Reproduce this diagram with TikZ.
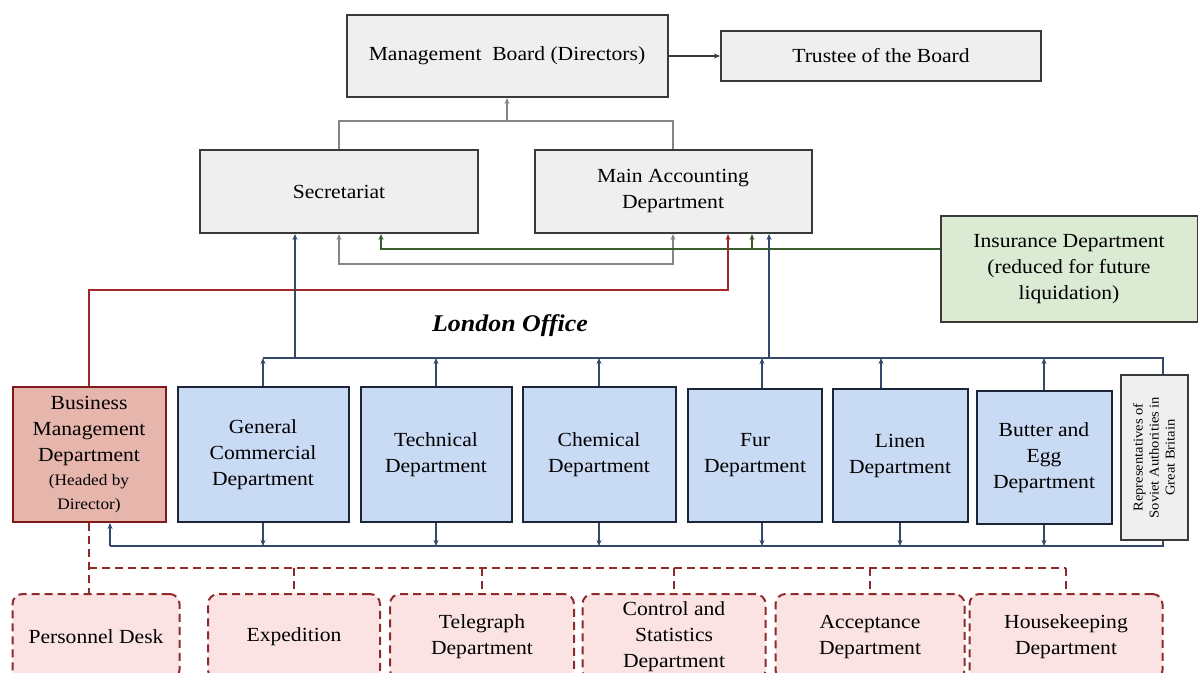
\documentclass[tikz,border=0pt]{standalone}
\usepackage{fontspec}
\setmainfont{Liberation Serif}[FakeStretch=1.08]
\usetikzlibrary{arrows.meta,calc}
\definecolor{fillgray}{HTML}{EFEFEF}
\definecolor{edgegray}{HTML}{3A3A3A}
\definecolor{fillblue}{HTML}{C9DAF5}
\definecolor{edgenavy}{HTML}{1C2438}
\definecolor{fillsalmon}{HTML}{E6B5AC}
\definecolor{edgered}{HTML}{7E1A1A}
\definecolor{fillgreen}{HTML}{DAEAD3}
\definecolor{fillpink}{HTML}{FCE3E3}
\definecolor{dashred}{HTML}{8E2A2A}
\definecolor{linegray}{HTML}{858585}
\definecolor{linegreen}{HTML}{3A5E2C}
\definecolor{linered}{HTML}{A32828}
\definecolor{lineblue}{HTML}{34496A}
\begin{document}
\begin{tikzpicture}[x=1pt,y=-1pt,
  box/.style={draw=edgegray, line width=2pt, align=center, inner sep=2pt,
    font=\fontsize{20}{26}\selectfont, text=black},
  graybox/.style={box, fill=fillgray},
  bluebox/.style={box, fill=fillblue, draw=edgenavy, minimum height=135pt},
  subbox/.style={box, fill=fillpink, draw=dashred, dash pattern=on 8pt off 5pt,
    rounded corners=10pt, minimum height=86pt},
  arr/.style={-{Stealth[length=6pt,width=5pt]}},
  darr/.style={{Stealth[length=6pt,width=5pt]}-{Stealth[length=6pt,width=5pt]}},
  conn/.style={line width=2pt},
  grayl/.style={conn, draw=linegray},
  greenl/.style={conn, draw=linegreen},
  redl/.style={conn, draw=linered},
  bluel/.style={conn, draw=lineblue},
  reddash/.style={line width=2.4pt, draw=dashred, dash pattern=on 8pt off 5pt}
]
\useasboundingbox (0,0) rectangle (1198,672);
\clip (0,0) rectangle (1198,672);

% top level
\node[graybox, minimum width=321pt, minimum height=82pt] (mb) at (507,56) {Management\ \ Board (Directors)};
\node[graybox, minimum width=320pt, minimum height=50pt] (tr) at (881,56) {Trustee of the Board};
\node[graybox, minimum width=278pt, minimum height=83pt] (sec) at (339,191.5) {Secretariat};
\node[graybox, minimum width=277pt, minimum height=83pt] (mad) at (673,191.5) {Main Accounting\\Department};
\node[box, fill=fillgreen, minimum width=257pt, minimum height=106pt] (ins) at (1069,269) {Insurance Department\\(reduced for future\\liquidation)};

\node[font=\fontsize{24}{28}\selectfont\bfseries\itshape] (lo) at (510,326) {London Office};

% department row
\node[box, fill=fillsalmon, draw=edgered, minimum width=153pt, minimum height=135pt] (bmd) at (89,454.5)
  {Business\\Management\\Department\\[-2pt]{\fontsize{16}{22}\selectfont (Headed by}\\[-2pt]{\fontsize{16}{22}\selectfont Director)}};
\node[bluebox, minimum width=171pt] (gc) at (263,454.5) {General\\Commercial\\Department};
\node[bluebox, minimum width=151pt] (tech) at (436,454.5) {Technical\\Department};
\node[bluebox, minimum width=153pt] (chem) at (599,454.5) {Chemical\\Department};
\node[bluebox, minimum width=134pt, minimum height=133pt] (fur) at (755,455.5) {Fur\\Department};
\node[bluebox, minimum width=135pt, minimum height=133pt] (lin) at (900,455.5) {Linen\\Department};
\node[bluebox, minimum width=135pt, minimum height=133pt] (bue) at (1044,457.5) {Butter and\\Egg\\Department};
\node[graybox, minimum width=67pt, minimum height=165pt] (rep) at (1154,457.5) {};
\node[rotate=90, align=center, font=\fontsize{13.5}{16}\selectfont] (reptext) at (rep.center) {Representatives of\\Soviet Authorities in\\Great Britain};

% bottom row
\node[subbox, minimum width=167pt] (pd) at (96,637) {Personnel Desk};
\node[subbox, minimum width=172pt] (ex) at (294,637) {Expedition};
\node[subbox, minimum width=184pt] (tg) at (482,637) {Telegraph\\Department};
\node[subbox, minimum width=183pt] (cs) at (674,637) {Control and\\Statistics\\Department};
\node[subbox, minimum width=189pt] (ac) at (870,637) {Acceptance\\Department};
\node[subbox, minimum width=193pt] (hk) at (1066,637) {Housekeeping\\Department};

% top connectors
\draw[conn, draw=edgegray, arr] (mb) -- (tr);
\coordinate (j1) at (507,121);
\draw[grayl] (sec.north) |- (j1) -| (mad.north);
\draw[grayl, arr] (j1) -- (mb.south);
\draw[grayl, darr] (sec.south) -- ++(0,30) -| (mad.south);

% green
\coordinate (g0) at (381,249);
\coordinate (g1) at (752,249);
\draw[greenl, arr] (ins.west |- g0) -- (g0) -- (g0 |- sec.south);
\draw[greenl, arr] (g1) -- (g1 |- mad.south);

% red
\coordinate (r1) at (728,290);
\draw[redl, arr] (bmd.north) |- (r1) -- (r1 |- mad.south);

% upper blue bus
\coordinate (bl) at (263,358);
\coordinate (br) at (1163,358);
\coordinate (b1) at (295,358);
\coordinate (b2) at (769,358);
\draw[bluel] (bl) -- (br) -- (br |- rep.north);
\draw[bluel, arr] (b1) -- (b1 |- sec.south);
\draw[bluel, arr] (b2) -- (b2 |- mad.south);
\foreach \n in {gc,tech,chem,bue}
  \draw[bluel, arr] (\n.north) -- (\n.north |- bl);
\draw[bluel, arr] ([xshift=7pt]fur.north) -- ([xshift=7pt]fur.north |- bl);
\draw[bluel, arr] ([xshift=-19pt]lin.north) -- ([xshift=-19pt]lin.north |- bl);

% lower blue bus
\coordinate (ql) at (110,546);
\coordinate (qr) at (1163,546);
\draw[bluel] (ql) -- (qr) -- (qr |- rep.south);
\draw[bluel, arr] (ql) -- (ql |- bmd.south);
\foreach \n in {gc,tech,chem,lin,bue}
  \draw[bluel, arr] (\n.south) -- (\n.south |- ql);
\draw[bluel, arr] ([xshift=7pt]fur.south) -- ([xshift=7pt]fur.south |- ql);

% red dashed
\coordinate (d0) at (89,568);
\draw[reddash] (bmd.south) -- (bmd.south |- pd.north);
\draw[reddash] (d0) -- (hk.north |- d0);
\foreach \n in {ex,tg,cs,ac,hk}
  \draw[reddash] (\n.north |- d0) -- (\n.north);
\end{tikzpicture}
\end{document}
